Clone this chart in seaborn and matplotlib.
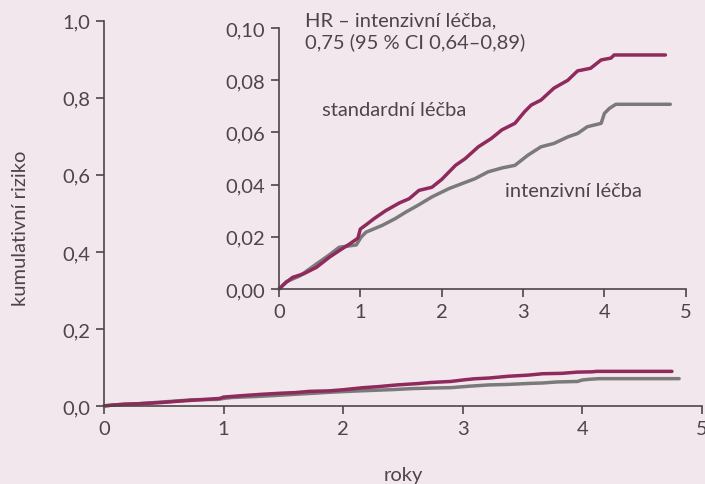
import matplotlib
matplotlib.use("Agg")
import matplotlib.pyplot as plt
import pandas as pd
import seaborn as sns

# Cumulative risk (years, risk)
std_years = [0.0, 0.09, 0.17, 0.30, 0.46, 0.62, 0.74, 0.87, 0.97, 1.00, 1.07, 1.17, 1.31,
             1.48, 1.60, 1.72, 1.88, 2.00, 2.17, 2.29, 2.45, 2.61, 2.74, 2.90, 3.02, 3.10,
             3.22, 3.38, 3.55, 3.67, 3.83, 3.96, 4.08, 4.12, 4.75]
std_risk = [0.0, 0.0026, 0.0045, 0.0058, 0.0083, 0.0122, 0.0147, 0.0173, 0.0195, 0.0230,
            0.0246, 0.0270, 0.0300, 0.0330, 0.0346, 0.0378, 0.0390, 0.0420, 0.0474, 0.0500,
            0.0545, 0.0577, 0.0610, 0.0635, 0.0680, 0.0705, 0.0724, 0.0770, 0.0800, 0.0836,
            0.0846, 0.0878, 0.0885, 0.0897, 0.0897]

int_years = [0.0, 0.09, 0.26, 0.46, 0.62, 0.74, 0.95, 1.01, 1.07, 1.27, 1.43, 1.56, 1.72,
             1.88, 2.09, 2.25, 2.41, 2.57, 2.74, 2.90, 3.06, 3.22, 3.38, 3.55, 3.67, 3.79,
             3.96, 4.00, 4.06, 4.14, 4.81]
int_risk = [0.0, 0.0028, 0.0051, 0.0096, 0.0131, 0.0160, 0.0169, 0.0199, 0.0218, 0.0244,
            0.0270, 0.0295, 0.0323, 0.0353, 0.0385, 0.0404, 0.0423, 0.0449, 0.0464, 0.0474,
            0.0513, 0.0545, 0.0558, 0.0583, 0.0596, 0.0622, 0.0635, 0.0673, 0.0692, 0.0708,
            0.0708]

main_yticks = [0.0, 0.2, 0.4, 0.6, 0.8, 1.0]
inset_yticks = [0.0, 0.02, 0.04, 0.06, 0.08, 0.10]
xticks = [0, 1, 2, 3, 4, 5]

BG = "#f3e7ee"
MAGENTA = "#8e2a5c"
GREY = "#7a7a7a"
INK = "#4d4548"
FS = 14.5

sns.set_theme(style="ticks")
plt.rcParams["font.family"] = ["Lato", "DejaVu Sans"]
plt.rcParams["text.color"] = INK

std_df = pd.DataFrame({"roky": std_years, "riziko": std_risk})
int_df = pd.DataFrame({"roky": int_years, "riziko": int_risk})

fig = plt.figure(figsize=(7.05, 4.85), dpi=100, facecolor=BG)
ax = fig.add_axes([0.1475, 0.161, 0.848, 0.794])
ins = fig.add_axes([0.3957, 0.402, 0.577, 0.538])


def style_axes(ax, ylim, yticks, fmt):
    ax.set_facecolor("none")
    ax.set_xlim(0, 5)
    ax.set_ylim(*ylim)
    ax.set_xticks(xticks)
    ax.set_xticklabels([str(t) for t in xticks])
    ax.set_yticks(yticks)
    ax.set_yticklabels([fmt.format(t).replace(".", ",") for t in yticks])
    for side in ("top", "right"):
        ax.spines[side].set_visible(False)
    for side in ("left", "bottom"):
        ax.spines[side].set_color(INK)
        ax.spines[side].set_linewidth(1.2)
    ax.tick_params(colors=INK, labelcolor=INK, labelsize=FS, length=6, width=1.2,
                   direction="out", pad=4)
    ax.set_xlabel("")
    ax.set_ylabel("")


for a in (ax, ins):
    sns.lineplot(data=int_df, x="roky", y="riziko", ax=a, color=GREY, linewidth=2.5,
                 estimator=None, sort=False)
    sns.lineplot(data=std_df, x="roky", y="riziko", ax=a, color=MAGENTA, linewidth=2.5,
                 estimator=None, sort=False)

style_axes(ax, (0, 1.0), main_yticks, "{:.1f}")
style_axes(ins, (0, 0.10), inset_yticks, "{:.2f}")
for a in (ax, ins):
    for line in a.lines:
        line.set_clip_on(False)

ax.set_xlabel("roky", fontsize=FS, color=INK)
ax.xaxis.set_label_coords(0.5, -0.155)
ax.set_ylabel("kumulativní riziko", fontsize=FS, color=INK)
ax.yaxis.set_label_coords(-0.125, 0.465)

fig.text(305 / 705, 1 - 12 / 485, "HR – intenzivní léčba,\n0,75 (95 % CI 0,64–0,89)",
         fontsize=FS, color=INK, ha="left", va="top", linespacing=1.3)
fig.text(322 / 705, 1 - 110 / 485, "standardní léčba", fontsize=FS, color=INK,
         ha="left", va="center")
fig.text(505 / 705, 1 - 192 / 485, "intenzivní léčba", fontsize=FS, color=INK,
         ha="left", va="center")

fig.savefig("out.png", dpi=100, facecolor=BG)
